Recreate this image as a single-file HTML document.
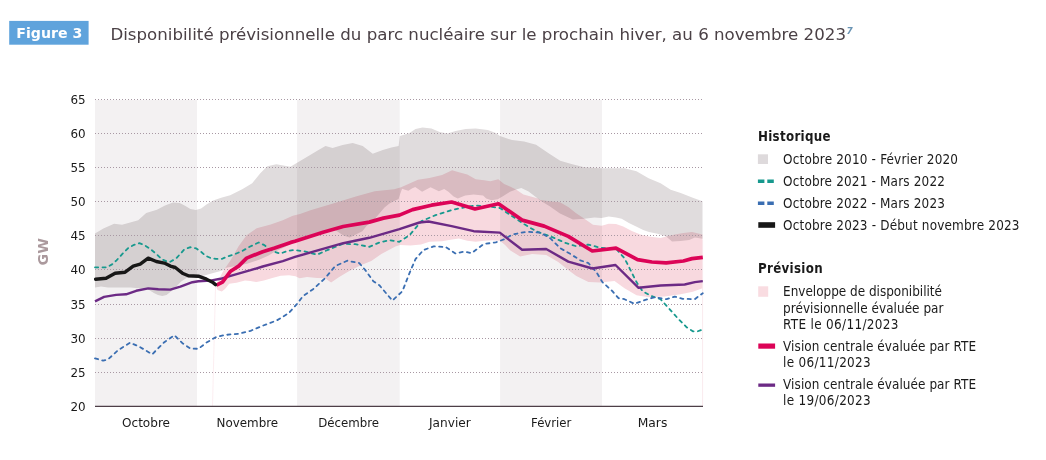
<!DOCTYPE html>
<html lang="fr"><head><meta charset="utf-8"><title>Figure 3</title>
<style>
html,body{margin:0;padding:0;background:#fff;}
body{width:1046px;height:460px;overflow:hidden;position:relative;}
svg{position:absolute;left:0;top:0;display:block;}
.n{font-family:"DejaVu Sans Condensed","DejaVu Sans","Liberation Sans",sans-serif;font-stretch:condensed;font-size:13.4px;fill:#1a1a1a;}
.a{font-family:"DejaVu Sans Condensed","DejaVu Sans","Liberation Sans",sans-serif;font-stretch:condensed;font-size:12.4px;fill:#1a1a1a;}
.b{font-family:"DejaVu Sans Condensed","DejaVu Sans","Liberation Sans",sans-serif;font-stretch:condensed;font-weight:bold;font-size:13.2px;fill:#1a1a1a;}
.t{font-family:"DejaVu Sans","Liberation Sans",sans-serif;font-size:16.4px;fill:#4b4146;}
.mul{mix-blend-mode:multiply;}
.fig{font-family:"DejaVu Sans","Liberation Sans",sans-serif;font-weight:bold;font-size:14.6px;fill:#fff;}
.sup{font-family:"DejaVu Sans","Liberation Sans",sans-serif;font-weight:bold;font-style:italic;font-size:9px;fill:#6a94b4;}
.gw{font-family:"DejaVu Sans Condensed","DejaVu Sans","Liberation Sans",sans-serif;font-stretch:condensed;font-weight:bold;font-size:14.8px;fill:#ab999d;}
</style></head><body>
<svg width="1046" height="460" viewBox="0 0 1046 460">
<rect x="0" y="0" width="1046" height="460" fill="#fff"/>

<rect x="9.2" y="20.9" width="79.4" height="23.8" fill="#5fa3dc"/>
<text x="16.3" y="37.8" class="fig" textLength="66" lengthAdjust="spacingAndGlyphs">Figure 3</text>
<text class="t" x="110.4" y="39.8" textLength="735.6" lengthAdjust="spacingAndGlyphs">Disponibilité prévisionnelle du parc nucléaire sur le prochain hiver, au 6 novembre 2023</text>
<text x="846.4" y="33.7" class="sup">7</text>
<g style="isolation:isolate">
<rect x="95" y="99" width="608" height="308" fill="#fff"/>
<rect class="mul" x="95" y="100" width="102" height="306.3" fill="#f3f1f2"/>
<rect class="mul" x="297.1" y="100" width="102.59999999999997" height="306.3" fill="#f3f1f2"/>
<rect class="mul" x="500.1" y="100" width="101.89999999999998" height="306.3" fill="#f3f1f2"/>
<polygon class="mul" fill="#e0dcdd" points="95.0,233.6 103.4,228.5 114.1,223.8 122.1,224.7 130.2,222.4 138.2,220.2 146.2,213.1 156.9,209.7 165.0,205.4 173.0,202.4 179.7,203.0 185.0,205.7 190.4,209.1 195.8,210.0 201.1,208.4 206.5,204.4 213.2,200.4 221.2,197.7 230.2,195.3 242.2,189.3 252.2,183.2 260.3,173.2 267.3,166.2 276.3,164.2 290.4,166.8 298.4,162.1 308.5,156.1 318.5,150.1 325.5,146.1 332.6,148.1 342.6,145.1 352.7,143.1 362.7,146.1 372.7,153.7 382.8,150.1 391.4,147.5 398.6,146.1 399.8,136.0 409.5,133.0 415.5,129.0 422.5,127.4 431.5,128.6 439.6,132.0 447.6,133.4 455.6,131.0 465.7,129.0 475.7,128.6 487.8,130.0 495.8,133.0 500.0,136.0 512.0,140.1 524.1,141.5 536.1,144.7 548.2,153.1 560.2,160.7 572.3,164.2 584.3,167.2 600.4,168.2 612.4,168.2 624.5,168.2 636.5,171.2 648.6,178.2 660.6,183.2 670.7,189.7 680.7,192.9 692.8,197.7 702.5,201.3 702.5,238.8 694.9,237.6 689.2,239.9 680.6,240.9 672.0,241.6 666.2,236.6 657.6,233.7 649.0,231.9 643.2,230.1 636.1,226.6 628.9,223.0 621.7,218.7 616.0,217.5 608.8,216.5 601.6,217.9 594.4,217.5 584.4,218.7 572.9,219.4 560.0,213.6 549.7,206.3 540.2,200.5 537.1,197.9 528.6,191.6 521.3,188.1 516.0,189.5 510.0,191.8 504.1,195.5 497.8,199.2 491.5,200.2 486.2,198.6 483.1,195.5 473.6,194.4 465.2,195.5 457.8,198.6 453.6,196.5 448.4,191.8 444.2,189.0 438.9,191.3 430.5,187.3 422.1,191.8 415.2,187.1 411.9,188.5 408.4,190.8 405.0,189.8 402.1,188.7 400.1,194.2 398.6,199.1 394.2,201.0 389.4,203.5 384.5,207.4 379.6,213.3 374.7,219.1 366.5,226.1 362.3,231.3 353.9,235.5 349.7,237.6 343.4,235.5 337.0,231.3 335.2,230.2 315.1,233.2 295.0,241.5 286.0,246.5 278.6,250.0 274.4,252.1 268.1,255.8 259.7,259.5 247.0,263.7 236.0,266.0 226.0,267.8 222.5,270.5 210.5,273.8 198.4,277.2 186.5,277.9 181.2,281.5 172.8,290.0 166.5,294.9 162.3,295.9 158.0,294.9 153.9,293.1 147.6,288.9 130.2,287.6 108.0,287.4 101.0,286.6 95.0,287.6"/>
<polygon class="mul" fill="#f8d9df" points="216.5,284.0 223.5,270.4 230.6,260.3 238.6,246.3 246.6,235.2 256.7,228.2 270.7,224.6 282.8,220.2 292.8,215.7 300.0,214.1 310.5,210.3 330.6,204.3 356.7,196.3 374.7,191.3 394.2,189.3 401.1,187.3 408.4,183.9 417.9,179.7 429.4,178.1 442.1,175.0 452.1,170.3 458.9,172.2 467.3,174.5 475.7,179.2 484.1,180.2 490.4,181.3 498.3,179.2 504.1,183.9 510.0,186.6 516.0,189.5 523.4,194.4 530.8,196.5 538.1,198.4 540.2,200.0 551.8,201.5 560.0,202.2 568.6,207.2 575.8,212.9 584.4,218.7 593.0,224.7 601.6,225.8 608.8,223.7 616.0,224.1 623.2,226.6 631.8,230.9 640.4,234.4 649.0,236.6 660.5,238.0 666.2,236.6 674.8,234.4 683.4,233.0 692.0,231.9 702.5,234.4 702.5,288.2 692.8,291.8 680.7,294.2 664.7,296.6 648.6,297.2 636.5,295.2 624.5,288.2 614.5,281.1 600.4,282.5 588.4,282.1 576.3,276.1 568.3,270.1 558.2,262.0 546.2,255.0 532.1,254.0 520.1,256.5 510.0,250.2 505.1,245.0 499.9,240.8 492.5,240.2 484.1,240.8 475.7,241.8 467.3,240.8 458.9,238.4 450.5,239.7 442.0,241.3 429.4,241.8 421.0,244.4 410.5,245.5 400.0,245.0 395.4,246.5 381.3,254.1 371.3,261.1 361.3,265.1 349.2,271.1 339.2,277.1 331.1,282.6 325.1,278.2 317.1,278.0 307.0,277.0 299.6,278.2 295.4,276.3 289.1,275.2 280.7,275.8 272.3,277.9 263.9,280.5 256.5,282.1 250.2,281.0 245.0,280.5 236.5,282.8 229.2,283.8 225.0,288.9 221.8,291.6 217.6,290.0 215.5,285.4"/>
</g>
<line x1="215.5" y1="287" x2="212.5" y2="406" stroke="#fcecef" stroke-width="0.9"/>
<line x1="702.6" y1="240" x2="702.6" y2="406" stroke="#f7e4e8" stroke-width="0.8"/>
<line x1="95" y1="372.5" x2="703" y2="372.5" stroke="#a898a3" stroke-width="1" stroke-dasharray="1 2" shape-rendering="crispEdges"/>
<line x1="95" y1="338.5" x2="703" y2="338.5" stroke="#a898a3" stroke-width="1" stroke-dasharray="1 2" shape-rendering="crispEdges"/>
<line x1="95" y1="304.5" x2="703" y2="304.5" stroke="#a898a3" stroke-width="1" stroke-dasharray="1 2" shape-rendering="crispEdges"/>
<line x1="95" y1="269.5" x2="703" y2="269.5" stroke="#a898a3" stroke-width="1" stroke-dasharray="1 2" shape-rendering="crispEdges"/>
<line x1="95" y1="235.5" x2="703" y2="235.5" stroke="#a898a3" stroke-width="1" stroke-dasharray="1 2" shape-rendering="crispEdges"/>
<line x1="95" y1="201.5" x2="703" y2="201.5" stroke="#a898a3" stroke-width="1" stroke-dasharray="1 2" shape-rendering="crispEdges"/>
<line x1="95" y1="167.5" x2="703" y2="167.5" stroke="#a898a3" stroke-width="1" stroke-dasharray="1 2" shape-rendering="crispEdges"/>
<line x1="95" y1="133.5" x2="703" y2="133.5" stroke="#a898a3" stroke-width="1" stroke-dasharray="1 2" shape-rendering="crispEdges"/>
<line x1="95" y1="99.5" x2="703" y2="99.5" stroke="#a898a3" stroke-width="1" stroke-dasharray="1 2" shape-rendering="crispEdges"/>
<polyline fill="none" stroke="#17998e" stroke-width="1.8" stroke-dasharray="3.2 4.3" stroke-linecap="round" stroke-linejoin="round" points="95.0,267.3 107.0,267.3 112.0,264.4 116.5,260.4 122.4,253.9 128.3,248.0 134.1,244.8 139.4,243.2 143.9,244.8 150.4,249.0 157.0,254.6 162.2,259.5 167.4,261.7 170.0,261.9 176.3,258.3 184.4,249.3 190.4,247.2 196.0,248.3 201.3,252.0 205.5,255.7 210.8,258.1 216.0,258.9 222.3,258.8 226.5,256.7 235.0,254.1 242.3,250.9 249.7,246.7 258.6,242.5 264.4,245.1 268.6,248.8 273.9,251.5 280.2,253.6 287.5,250.9 293.8,249.9 304.4,251.4 317.1,254.7 327.1,250.2 343.2,243.8 355.2,244.2 369.3,246.8 379.3,242.6 389.4,240.2 399.4,241.8 409.5,235.2 421.5,221.1 435.6,215.1 451.6,210.1 465.7,207.1 475.7,205.5 489.8,206.5 500.0,208.1 512.0,216.1 524.1,224.1 536.1,231.2 552.2,237.2 566.3,243.2 576.3,246.2 588.4,244.6 600.4,247.8 616.5,249.2 624.5,258.3 628.5,266.1 636.5,282.1 642.6,291.2 650.6,295.8 660.6,299.2 668.7,308.2 678.7,319.3 686.7,327.3 692.8,331.3 697.8,331.3 702.8,329.3"/>
<polyline fill="none" stroke="#3a6eb2" stroke-width="1.8" stroke-dasharray="3.2 4.3" stroke-linecap="round" stroke-linejoin="round" points="95.0,358.3 103.1,360.7 108.1,359.3 118.1,350.2 130.2,342.6 140.2,347.2 152.2,354.3 164.3,342.2 174.3,335.2 182.4,343.2 190.4,348.6 198.4,348.8 206.5,342.6 216.5,336.8 226.5,334.8 238.6,333.8 250.6,330.8 262.7,325.7 276.7,320.5 288.8,313.1 296.8,304.1 303.0,296.2 313.1,289.2 325.1,278.2 335.2,266.1 347.2,260.7 359.3,263.1 365.3,270.1 373.3,281.2 379.3,285.2 392.4,300.6 402.4,291.2 409.5,273.1 415.5,259.1 423.5,250.0 433.6,246.4 445.6,247.0 455.6,253.5 463.7,251.6 471.7,253.1 483.8,244.0 495.8,242.4 505.0,239.0 512.0,234.6 526.1,231.8 540.2,232.6 550.2,238.2 560.2,248.2 570.3,253.9 580.3,260.3 588.4,263.1 596.4,272.1 602.4,282.1 612.4,291.2 618.5,298.2 624.5,299.2 634.5,303.8 644.6,300.2 654.6,297.2 666.7,299.2 674.7,296.6 682.7,298.8 694.8,299.2 702.8,293.2"/>
<polyline fill="none" stroke="#6c2a85" stroke-width="2.4" stroke-linejoin="round" points="95.0,301.3 104.1,296.9 116.1,294.9 126.1,294.3 136.2,290.8 148.2,288.4 158.3,289.2 170.3,289.6 180.4,286.6 192.4,282.2 198.4,281.2 210.5,280.6 220.5,278.8 230.6,275.8 250.6,270.2 262.7,266.5 282.8,261.1 295.0,256.9 315.1,251.2 343.2,243.2 369.3,237.8 399.4,229.2 419.5,222.5 428.5,221.5 451.6,226.1 473.7,231.2 499.8,232.6 522.1,249.8 546.2,249.0 568.3,261.6 592.4,268.5 615.5,265.0 638.6,287.8 660.6,285.5 684.7,284.5 694.8,282.1 702.8,281.1"/>
<polyline fill="none" stroke="#dc0457" stroke-width="3.7" stroke-linejoin="round" stroke-linecap="butt" points="216.5,285.2 222.5,282.2 230.6,271.2 238.6,266.1 246.6,258.1 262.7,251.7 274.7,248.1 290.8,242.4 295.0,241.2 323.1,232.2 343.2,226.5 369.3,222.1 383.4,218.1 399.4,215.1 412.6,209.6 431.5,205.2 451.6,202.0 475.0,209.0 498.5,203.8 522.1,220.1 544.2,226.1 568.3,236.4 592.3,251.0 616.0,248.1 637.5,259.6 651.9,262.0 666.2,262.9 683.4,261.0 692.0,258.6 702.8,257.4"/>
<polyline fill="none" stroke="#171717" stroke-width="3.4" stroke-linejoin="round" stroke-linecap="round" points="95.6,279.2 106.1,278.2 115.1,273.2 125.1,272.2 133.2,266.1 140.2,264.1 148.2,258.1 156.3,261.5 164.3,263.1 170.3,266.1 175.3,267.5 182.4,273.2 188.4,275.8 198.4,276.2 206.5,279.2 212.5,282.2 215.5,284.6"/>
<line x1="95" y1="406.4" x2="703" y2="406.4" stroke="#4d3f47" stroke-width="1.3"/>
<text class="a" x="70.5" y="410.8" textLength="15.2" lengthAdjust="spacingAndGlyphs">20</text>
<text class="a" x="70.5" y="376.7" textLength="15.2" lengthAdjust="spacingAndGlyphs">25</text>
<text class="a" x="70.5" y="342.6" textLength="15.2" lengthAdjust="spacingAndGlyphs">30</text>
<text class="a" x="70.5" y="308.5" textLength="15.2" lengthAdjust="spacingAndGlyphs">35</text>
<text class="a" x="70.5" y="274.4" textLength="15.2" lengthAdjust="spacingAndGlyphs">40</text>
<text class="a" x="70.5" y="240.4" textLength="15.2" lengthAdjust="spacingAndGlyphs">45</text>
<text class="a" x="70.5" y="206.3" textLength="15.2" lengthAdjust="spacingAndGlyphs">50</text>
<text class="a" x="70.5" y="172.2" textLength="15.2" lengthAdjust="spacingAndGlyphs">55</text>
<text class="a" x="70.5" y="138.1" textLength="15.2" lengthAdjust="spacingAndGlyphs">60</text>
<text class="a" x="70.5" y="104.0" textLength="15.2" lengthAdjust="spacingAndGlyphs">65</text>
<text class="a" x="122.0" y="426.7" textLength="48" lengthAdjust="spacingAndGlyphs">Octobre</text>
<text class="a" x="216.5" y="426.7" textLength="61.6" lengthAdjust="spacingAndGlyphs">Novembre</text>
<text class="a" x="318.2" y="426.7" textLength="60.8" lengthAdjust="spacingAndGlyphs">Décembre</text>
<text class="a" x="429.0" y="426.7" textLength="41.8" lengthAdjust="spacingAndGlyphs">Janvier</text>
<text class="a" x="531.1" y="426.7" textLength="40.3" lengthAdjust="spacingAndGlyphs">Février</text>
<text class="a" x="637.7" y="426.7" textLength="29.6" lengthAdjust="spacingAndGlyphs">Mars</text>
<text transform="translate(48.4,265.4) rotate(-90)" textLength="27.3" lengthAdjust="spacingAndGlyphs" class="gw">GW</text>
<text class="b" x="758.0" y="140.5" textLength="72.6" lengthAdjust="spacing">Historique</text>
<rect x="757.9" y="154.3" width="10.1" height="9.7" fill="#dedadc"/>
<text class="n" x="783.1" y="163.9" textLength="174.9" lengthAdjust="spacing">Octobre 2010 - Février 2020</text>
<line x1="757.9" y1="181.3" x2="775" y2="181.3" stroke="#17998e" stroke-width="3.4" stroke-dasharray="6.5 2.9"/>
<text class="n" x="783.1" y="185.8" textLength="161.8" lengthAdjust="spacing">Octobre 2021 - Mars 2022</text>
<line x1="757.9" y1="203.3" x2="775" y2="203.3" stroke="#3a6eb2" stroke-width="3.4" stroke-dasharray="6.5 2.9"/>
<text class="n" x="783.1" y="207.8" textLength="161.8" lengthAdjust="spacing">Octobre 2022 - Mars 2023</text>
<rect x="758.3" y="222.2" width="16.8" height="5.6" fill="#171717"/>
<text class="n" x="783.1" y="229.7" textLength="236.4" lengthAdjust="spacing">Octobre 2023 - Début novembre 2023</text>
<text class="b" x="758.0" y="272.9" textLength="64.6" lengthAdjust="spacing">Prévision</text>
<rect x="758.2" y="286.3" width="10" height="10.5" fill="#f9dce1"/>
<text class="n" x="783.1" y="296.0" textLength="158.9" lengthAdjust="spacing">Enveloppe de disponibilité</text>
<text class="n" x="783.1" y="312.5" textLength="160.4" lengthAdjust="spacing">prévisionnelle évaluée par</text>
<text class="n" x="783.1" y="329.1" textLength="115.3" lengthAdjust="spacing">RTE le 06/11/2023</text>
<rect x="758.3" y="343.5" width="16.8" height="5.2" fill="#dc0457"/>
<text class="n" x="783.1" y="351.3" textLength="192.9" lengthAdjust="spacing">Vision centrale évaluée par RTE</text>
<text class="n" x="783.1" y="367.4" textLength="87.6" lengthAdjust="spacing">le 06/11/2023</text>
<rect x="758.3" y="383.5" width="16.8" height="3.3" fill="#6c2a85"/>
<text class="n" x="783.1" y="388.7" textLength="192.9" lengthAdjust="spacing">Vision centrale évaluée par RTE</text>
<text class="n" x="783.1" y="405.3" textLength="87.6" lengthAdjust="spacing">le 19/06/2023</text>
</svg></body></html>
